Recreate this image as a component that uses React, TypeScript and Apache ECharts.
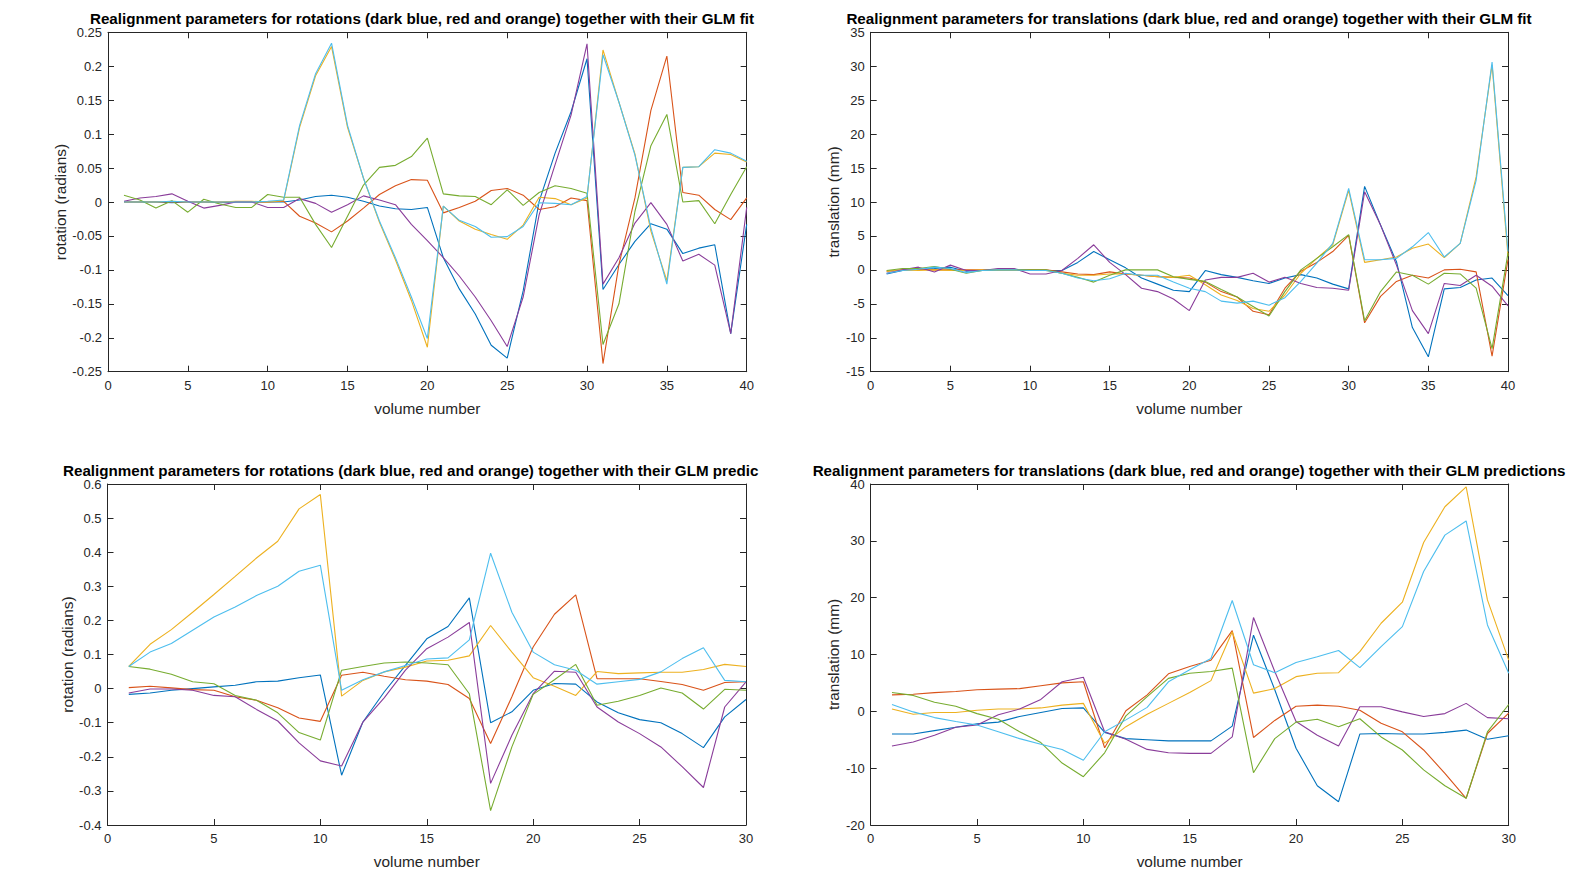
import React, { useEffect, useRef } from "react";
import * as echarts from "echarts";

// ---------- data ----------
const volumes40 = [1, 2, 3, 4, 5, 6, 7, 8, 9, 10, 11, 12, 13, 14, 15, 16, 17, 18, 19, 20, 21, 22, 23, 24, 25, 26, 27, 28, 29, 30, 31, 32, 33, 34, 35, 36, 37, 38, 39, 40];
const volumes30 = [1, 2, 3, 4, 5, 6, 7, 8, 9, 10, 11, 12, 13, 14, 15, 16, 17, 18, 19, 20, 21, 22, 23, 24, 25, 26, 27, 28, 29, 30];

// top-left: rotations + GLM fit
const rotFitBlue = [0, 0, 0, -0.001, 0, 0, -0.001, 0, 0, 0, 0, 0.003, 0.008, 0.01, 0.007, 0.001, -0.006, -0.01, -0.011, -0.008, -0.082, -0.128, -0.165, -0.211, -0.23, -0.131, 0.001, 0.072, 0.133, 0.211, -0.129, -0.092, -0.058, -0.032, -0.04, -0.076, -0.068, -0.063, -0.194, -0.033];
const rotFitRed = [0, 0, 0, 0, 0, 0, 0, 0, 0, 0, 0.001, -0.021, -0.031, -0.044, -0.028, -0.009, 0.011, 0.024, 0.033, 0.032, -0.016, -0.008, 0.001, 0.017, 0.02, 0.01, -0.011, -0.007, 0.006, 0.002, -0.238, -0.092, 0.006, 0.135, 0.215, 0.014, 0.01, -0.011, -0.026, 0.006];
const rotFitOrange = [0, 0, 0, 0.001, 0, 0, 0, 0.001, 0.001, 0, 0.002, 0.11, 0.186, 0.229, 0.11, 0.035, -0.03, -0.085, -0.145, -0.214, -0.006, -0.028, -0.04, -0.048, -0.055, -0.034, 0.007, 0.005, -0.004, 0.006, 0.224, 0.147, 0.071, -0.043, -0.116, 0.051, 0.052, 0.072, 0.07, 0.059];
const rotFitPurple = [0.001, 0.006, 0.008, 0.012, 0.001, -0.009, -0.005, 0, 0, -0.008, -0.008, 0.005, -0.002, -0.015, -0.004, 0.009, 0.003, -0.004, -0.033, -0.057, -0.082, -0.109, -0.14, -0.175, -0.213, -0.14, -0.019, 0.055, 0.128, 0.233, -0.121, -0.082, -0.031, -0.001, -0.033, -0.087, -0.077, -0.093, -0.194, -0.008];
const rotFitGreen = [0.01, 0.003, -0.009, 0.002, -0.015, 0.004, -0.003, -0.008, -0.008, 0.011, 0.007, 0.007, -0.033, -0.067, -0.021, 0.025, 0.051, 0.054, 0.067, 0.094, 0.012, 0.009, 0.008, -0.004, 0.018, -0.005, 0.014, 0.024, 0.02, 0.013, -0.21, -0.15, -0.014, 0.083, 0.129, 0, 0.002, -0.032, 0.011, 0.052];
const rotFitCyan = [0, 0, 0, 0.001, 0, 0, 0, 0, 0, 0.001, 0.003, 0.113, 0.189, 0.234, 0.113, 0.035, -0.028, -0.082, -0.14, -0.201, -0.006, -0.027, -0.036, -0.052, -0.051, -0.036, -0.001, -0.002, -0.004, 0.008, 0.217, 0.147, 0.069, -0.038, -0.121, 0.051, 0.052, 0.077, 0.072, 0.06];

// top-right: translations + GLM fit
const trFitBlue = [-0.6, -0.1, 0.1, 0.2, 0.4, -0.2, -0.1, 0.1, 0.1, -0.1, -0.1, -0.1, 1.1, 2.7, 1.5, 0.3, -1.2, -2.1, -3.0, -3.2, -0.1, -0.7, -1.1, -1.6, -2.0, -1.2, -0.7, -1.2, -2.1, -2.8, 12.3, 6.6, 1.2, -8.5, -12.8, -2.8, -2.6, -1.5, -1.2, -3.8];
const trFitRed = [-0.2, 0, 0.1, 0, 0, 0, 0, 0, 0, 0, 0, -0.3, -0.6, -0.7, -0.3, -0.6, -0.8, -1.0, -1.1, -1.2, -1.8, -3.2, -4.0, -6.1, -6.6, -2.7, -0.2, 1.1, 2.7, 5.1, -7.8, -3.9, -1.7, -0.8, -1.2, 0, 0.1, -0.3, -12.7, 1.5];
const trFitOrange = [-0.2, 0, -0.1, 0, -0.1, -0.1, 0, 0, 0, -0.1, -0.1, -0.5, -0.8, -0.8, -0.6, -0.6, -0.8, -1.0, -1.1, -0.8, -2.2, -3.7, -4.5, -5.7, -6.1, -3.7, -0.5, 1.7, 3.7, 11.7, 1.1, 1.5, 1.9, 3.2, 3.8, 1.8, 3.9, 13.7, 30.2, 2.0];
const trFitPurple = [-0.5, 0, 0.4, -0.3, 0.7, -0.1, -0.1, 0.2, 0.2, -0.6, -0.6, -0.1, 1.7, 3.7, 1.1, -0.7, -2.7, -3.2, -4.3, -6.0, -1.5, -1.1, -1.1, -0.5, -1.8, -1.1, -2.0, -2.6, -2.7, -3.0, 11.5, 6.6, 0.7, -6.0, -9.4, -2.0, -2.3, -0.8, -2.4, -5.3];
const trFitGreen = [-0.1, 0.2, 0.2, 0.5, 0.1, -0.5, -0.1, 0, 0, 0, 0, -0.5, -1.1, -1.8, -0.8, 0, 0, 0, -1.0, -1.4, -1.7, -2.9, -4.0, -5.4, -6.8, -3.2, 0, 1.7, 3.4, 5.2, -7.5, -3.2, -0.3, -0.8, -2.1, -0.5, -0.6, -2.7, -11.6, 2.5];
const trFitCyan = [-0.5, -0.1, 0.1, 0.4, 0.2, -0.4, -0.1, 0, 0, -0.1, -0.1, -0.5, -1.2, -1.6, -1.3, -0.5, -0.8, -0.8, -1.8, -2.7, -3.2, -4.6, -4.9, -4.6, -5.2, -4.1, -1.7, 1.0, 3.9, 12.0, 1.5, 1.5, 1.7, 3.4, 5.5, 1.9, 3.9, 13.2, 30.6, 2.7];

// bottom-left: rotations + GLM predictions
const rotPredBlue = [-0.017, -0.013, -0.005, 0, 0.005, 0.01, 0.02, 0.022, 0.032, 0.04, -0.254, -0.098, -0.01, 0.068, 0.146, 0.182, 0.266, -0.1, -0.068, -0.005, 0.015, 0.013, -0.039, -0.071, -0.091, -0.1, -0.132, -0.173, -0.083, -0.032];
const rotPredRed = [0.003, 0.007, 0.002, -0.003, -0.005, -0.024, -0.034, -0.056, -0.086, -0.096, 0.039, 0.048, 0.036, 0.026, 0.022, 0.012, -0.029, -0.161, -0.024, 0.122, 0.218, 0.275, 0.029, 0.029, 0.029, 0.021, 0.012, -0.005, 0.018, 0.02];
const rotPredOrange = [0.065, 0.13, 0.173, 0.224, 0.276, 0.329, 0.383, 0.432, 0.527, 0.569, -0.022, 0.024, 0.049, 0.063, 0.081, 0.083, 0.096, 0.185, 0.107, 0.032, 0.007, -0.02, 0.05, 0.044, 0.046, 0.048, 0.048, 0.056, 0.071, 0.065];
const rotPredPurple = [-0.013, -0.001, -0.001, -0.005, -0.02, -0.024, -0.061, -0.095, -0.159, -0.212, -0.227, -0.098, -0.027, 0.054, 0.117, 0.151, 0.194, -0.278, -0.137, -0.015, 0.051, 0.048, -0.054, -0.098, -0.132, -0.171, -0.229, -0.29, -0.054, 0.02];
const rotPredGreen = [0.065, 0.057, 0.042, 0.02, 0.014, -0.02, -0.034, -0.071, -0.129, -0.151, 0.054, 0.065, 0.075, 0.078, 0.075, 0.07, -0.015, -0.358, -0.171, -0.017, 0.026, 0.071, -0.049, -0.037, -0.02, 0.002, -0.013, -0.06, -0.002, -0.005];
const rotPredCyan = [0.065, 0.107, 0.132, 0.171, 0.21, 0.239, 0.273, 0.3, 0.344, 0.362, -0.005, 0.026, 0.049, 0.068, 0.087, 0.09, 0.143, 0.397, 0.224, 0.107, 0.07, 0.054, 0.013, 0.02, 0.027, 0.049, 0.088, 0.12, 0.024, 0.02];

// bottom-right: translations + GLM predictions
const trPredBlue = [-4.0, -4.0, -3.4, -2.8, -2.2, -1.9, -0.9, -0.2, 0.5, 0.6, -3.7, -4.8, -5.0, -5.2, -5.2, -5.2, -2.6, 13.4, 3.8, -6.5, -13.1, -15.9, -4.0, -3.9, -4.0, -4.0, -3.7, -3.3, -4.9, -4.3];
const trPredRed = [2.9, 3.0, 3.3, 3.5, 3.8, 3.9, 4.0, 4.5, 5.0, 5.2, -6.4, 0.1, 2.9, 6.6, 7.9, 9.0, 14.2, -4.6, -1.6, 0.9, 1.1, 0.9, 0.2, -2.1, -3.6, -6.8, -10.9, -15.3, -3.9, -0.3];
const trPredOrange = [0.4, -0.5, -0.2, -0.2, 0.2, 0.4, 0.4, 0.6, 1.1, 1.4, -5.6, -2.7, -0.5, 1.4, 3.3, 5.4, 14.0, 3.2, 4.0, 6.1, 6.7, 6.8, 10.5, 15.5, 19.2, 29.7, 36.0, 39.5, 19.6, 9.0];
const trPredPurple = [-6.1, -5.4, -4.2, -2.8, -2.4, -0.6, 0.4, 2.1, 5.2, 6.0, -3.6, -4.9, -6.7, -7.3, -7.4, -7.4, -4.5, 16.5, 7.0, -1.8, -4.2, -6.1, 0.8, 0.8, -0.1, -0.9, -0.4, 1.4, -1.1, -1.3];
const trPredGreen = [3.3, 2.8, 1.6, 0.9, -0.4, -1.4, -3.6, -5.5, -9.1, -11.5, -7.3, -0.8, 2.6, 5.8, 6.7, 7.0, 7.6, -10.8, -4.8, -1.9, -1.4, -2.7, -1.3, -4.5, -6.8, -10.3, -13.1, -15.3, -3.6, 1.2];
const trPredCyan = [1.2, -0.1, -1.1, -1.8, -2.4, -3.6, -4.8, -5.8, -6.7, -8.6, -3.6, -1.5, 0.7, 5.2, 7.3, 9.3, 19.5, 8.2, 6.8, 8.6, 9.6, 10.7, 7.7, 11.4, 14.9, 24.6, 31.0, 33.5, 15.2, 6.7];

const titles = [
  "Realignment parameters for rotations (dark blue, red and orange) together with their GLM fit",
  "Realignment parameters for translations (dark blue, red and orange) together with their GLM fit",
  "Realignment parameters for rotations (dark blue, red and orange) together with their GLM predic",
  "Realignment parameters for translations (dark blue, red and orange) together with their GLM predictions",
];
const xAxisName = "volume number";
const yAxisNames = ["rotation (radians)", "translation (mm)", "rotation (radians)", "translation (mm)"];

// MATLAB default colour order
const COLORS = ["#0072BD", "#D95319", "#EDB120", "#8A3D9A", "#77AC30", "#4DBEEE"];
const AX = "#262626";
const FONT = "Liberation Sans";

const panels = [
  { grid: { left: 108, top: 32.3, width: 638.7, height: 339.4 }, xs: volumes40, xMax: 40, yMin: -0.25, yMax: 0.25, yInt: 0.05, yGap: 40, series: [rotFitBlue, rotFitRed, rotFitOrange, rotFitPurple, rotFitGreen, rotFitCyan], title: { x: 422, y: 18.5, align: "center" } },
  { grid: { left: 870.7, top: 32.3, width: 637.3, height: 339.4 }, xs: volumes40, xMax: 40, yMin: -15, yMax: 35, yInt: 5, yGap: 30, series: [trFitBlue, trFitRed, trFitOrange, trFitPurple, trFitGreen, trFitCyan], title: { x: 1189, y: 18.5, align: "center" } },
  { grid: { left: 107.5, top: 484, width: 638.5, height: 341 }, xs: volumes30, xMax: 30, yMin: -0.4, yMax: 0.6, yInt: 0.1, yGap: 32, series: [rotPredBlue, rotPredRed, rotPredOrange, rotPredPurple, rotPredGreen, rotPredCyan], title: { x: 63, y: 470, align: "left" } },
  { grid: { left: 870.7, top: 484, width: 638, height: 341 }, xs: volumes30, xMax: 30, yMin: -20, yMax: 40, yInt: 10, yGap: 30, series: [trPredBlue, trPredRed, trPredOrange, trPredPurple, trPredGreen, trPredCyan], title: { x: 1189, y: 470, align: "center" } },
];

function buildOption() {
  const grid: any[] = [];
  const xAxis: any[] = [];
  const yAxis: any[] = [];
  const series: any[] = [];
  const graphic: any[] = [];
  const tick = { show: true, inside: true, length: 6, lineStyle: { color: AX, width: 1 } };
  const line = { show: true, onZero: false, lineStyle: { color: AX, width: 1 } };
  const label = { color: AX, fontSize: 13, fontFamily: FONT };

  panels.forEach((p, i) => {
    grid.push({ ...p.grid, containLabel: false, outerBoundsMode: "none" });
    xAxis.push({
      type: "value", gridIndex: i, position: "bottom", min: 0, max: p.xMax, interval: 5,
      axisLine: line, axisTick: tick, splitLine: { show: false },
      axisLabel: { ...label, margin: 7 },
      name: xAxisName, nameLocation: "middle", nameGap: 29,
      nameTextStyle: { color: AX, fontSize: 15.4, fontFamily: FONT },
    });
    xAxis.push({
      type: "value", gridIndex: i, position: "top", min: 0, max: p.xMax, interval: 5,
      axisLine: line, axisTick: tick, splitLine: { show: false }, axisLabel: { show: false },
    });
    yAxis.push({
      type: "value", gridIndex: i, position: "left", min: p.yMin, max: p.yMax, interval: p.yInt,
      axisLine: line, axisTick: tick, splitLine: { show: false },
      axisLabel: { ...label, margin: 6 },
      name: yAxisNames[i], nameLocation: "middle", nameGap: p.yGap,
      nameTextStyle: { color: AX, fontSize: 15.4, fontFamily: FONT },
    });
    yAxis.push({
      type: "value", gridIndex: i, position: "right", min: p.yMin, max: p.yMax, interval: p.yInt,
      axisLine: line, axisTick: tick, splitLine: { show: false }, axisLabel: { show: false },
    });
    p.series.forEach((vals, k) => {
      series.push({
        type: "line", xAxisIndex: 2 * i, yAxisIndex: 2 * i,
        data: p.xs.map((x, j) => [x, vals[j]]),
        showSymbol: false, symbol: "none", silent: true,
        lineStyle: { color: COLORS[k], width: 1.1 },
        itemStyle: { color: COLORS[k] },
      });
    });
    graphic.push({
      type: "text", x: p.title.x, y: p.title.y, silent: true,
      style: {
        text: titles[i], fill: "#000", textAlign: p.title.align, textVerticalAlign: "middle",
        fontSize: 15.2, fontWeight: "bold", fontFamily: FONT,
      },
    });
  });

  return { animation: false, backgroundColor: "#fff", grid, xAxis, yAxis, series, graphic };
}

export default function App() {
  const ref = useRef<HTMLDivElement>(null);
  useEffect(() => {
    document.body.style.margin = "0";
    const chart = echarts.init(ref.current as HTMLDivElement, null, { renderer: "svg" });
    chart.setOption(buildOption() as any);
    return () => chart.dispose();
  }, []);
  return <div ref={ref} style={{ width: 1588, height: 871, background: "#fff" }} />;
}
